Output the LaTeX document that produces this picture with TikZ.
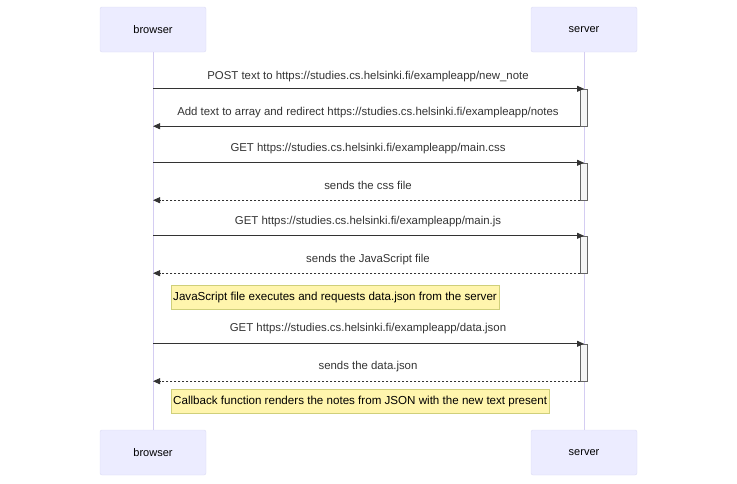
\documentclass[tikz,border=0pt]{standalone}
\usepackage{fontspec}
\setmainfont{Liberation Sans}
\usetikzlibrary{arrows.meta}
\definecolor{actorfill}{HTML}{ECECFF}
\definecolor{actorline}{HTML}{DCDCF5}
\definecolor{lifeline}{HTML}{D4CDF2}
\definecolor{notefill}{HTML}{FFF5AD}
\definecolor{noteline}{HTML}{CFCF7A}
\definecolor{msgline}{HTML}{333333}
\begin{document}
\begin{tikzpicture}[
			x=1pt,y=-1pt,
			actor/.style={draw=actorline,fill=actorfill,rounded corners=2pt,minimum width=106pt,minimum height=45pt,font=\fontsize{11}{13}\selectfont},
			msg/.style={draw=msgline,line width=0.9pt,-{Triangle[length=7pt,width=6pt]}},
			reply/.style={msg,dash pattern=on 2pt off 2pt},
			lbl/.style={text=msgline,font=\fontsize{11.4}{13}\selectfont},
			act/.style={draw=gray!80!black,fill=gray!8,minimum width=7pt,inner sep=0pt},
			note/.style={draw=noteline,fill=notefill,anchor=west,inner sep=2pt,minimum height=24pt,text=black,font=\fontsize{11.6}{13}\selectfont}
		]
		\useasboundingbox (0,0) rectangle (737,483);
		% actors
		\node[actor] (bt) at (153,29.5) {browser};
		\node[actor] (st) at (584,29.5) {server};
		\node[actor] (bb) at (153,452.5) {browser};
		\node[actor] (sb) at (584,452.5) {server};
		\draw[lifeline,line width=0.8pt] (bt.south) -- (bb.north);
		\draw[lifeline,line width=0.8pt] (st.south) -- (sb.north);
		% activations
		\node[act,minimum height=37pt] (a1) at (584,107.5) {};
		\node[act,minimum height=37pt] (a2) at (584,181.5) {};
		\node[act,minimum height=37pt] (a3) at (584,254.5) {};
		\node[act,minimum height=37pt] (a4) at (584,362.5) {};
		% messages
		\node[lbl] (m1) at (368,76.5) {POST text to https://studies.cs.helsinki.fi/exampleapp/new\_note};
		\draw[msg] (bt |- a1.north) -- (a1.north);
		\node[lbl] (m2) at (368,112.5) {Add text to array and redirect https://studies.cs.helsinki.fi/exampleapp/notes};
		\draw[msg] (a1.south west) -- (bt |- a1.south);
		\node[lbl] (m3) at (368,148.5) {GET https://studies.cs.helsinki.fi/exampleapp/main.css};
		\draw[msg] (bt |- a2.north) -- (a2.north);
		\node[lbl] (m4) at (368,185.5) {sends the css file};
		\draw[reply] (a2.south west) -- (bt |- a2.south);
		\node[lbl] (m5) at (368,221.5) {GET https://studies.cs.helsinki.fi/exampleapp/main.js};
		\draw[msg] (bt |- a3.north) -- (a3.north);
		\node[lbl] (m6) at (368,259.5) {sends the JavaScript file};
		\draw[reply] (a3.south west) -- (bt |- a3.south);
		\node[note] (n1) at (171,297) {JavaScript file executes and requests data.json from the server};
		\node[lbl] (m7) at (368,328.5) {GET https://studies.cs.helsinki.fi/exampleapp/data.json};
		\draw[msg] (bt |- a4.north) -- (a4.north);
		\node[lbl] (m8) at (368,366.5) {sends the data.json};
		\draw[reply] (a4.south west) -- (bt |- a4.south);
		\node[note] (n2) at (171,401) {Callback function renders the notes from JSON with the new text present};
	\end{tikzpicture}
\end{document}
